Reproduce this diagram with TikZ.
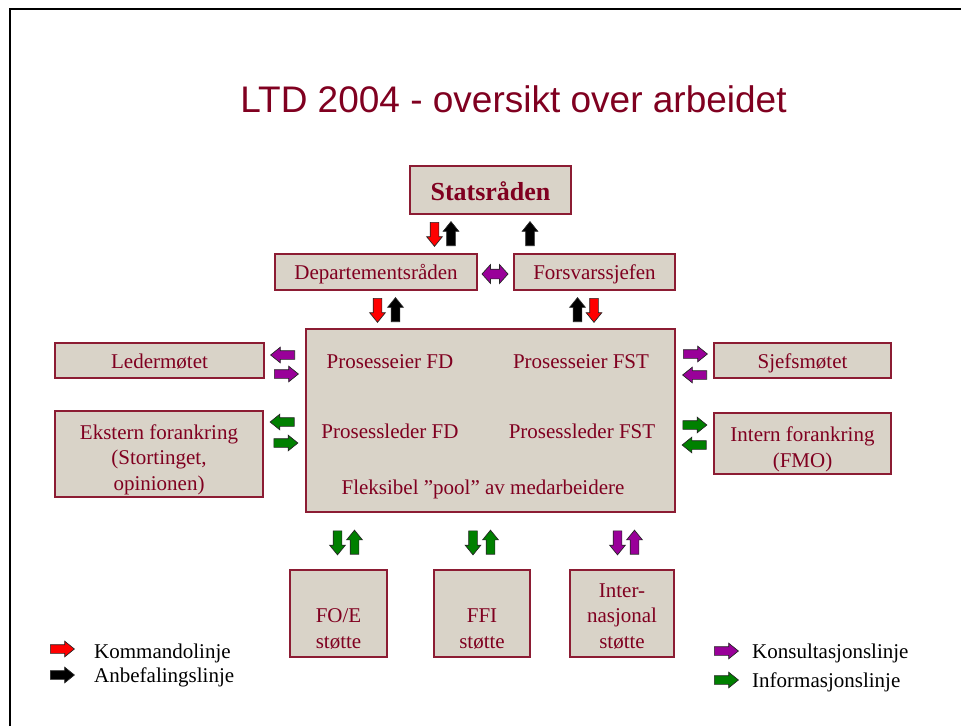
\documentclass[tikz,border=0pt]{standalone}
\usepackage{fontspec}
\setmainfont{Liberation Serif}
\newfontfamily\titlefont{Liberation Sans}
\usetikzlibrary{shapes.arrows}
\definecolor{boxfill}{HTML}{D9D3C8}
\definecolor{boxline}{HTML}{8C1C33}
\definecolor{wine}{HTML}{800020}
\definecolor{cmdred}{HTML}{FF0000}
\definecolor{konsult}{HTML}{990099}
\definecolor{info}{HTML}{008000}

\begin{document}
\begin{tikzpicture}[x=1pt,y=-1pt,
  box/.style={draw=boxline, fill=boxfill, line width=1.2pt, inner sep=0pt,
    align=center, text=wine, font=\fontsize{21}{25.5}\selectfont, text depth=0pt},
  boxtext/.style={anchor=base, text=wine, font=\fontsize{21}{25}\selectfont, inner sep=0pt},
  legtext/.style={anchor=base west, text=black, font=\fontsize{21}{25}\selectfont, inner sep=0pt},
  % block arrows, placed by the middle of their length
  blk/.style={single arrow, draw=black!85, line width=0.7pt, inner xsep=0pt, inner ysep=4pt,
    minimum height=24pt, minimum width=15pt, single arrow head extend=3.5pt,
    single arrow tip angle=78, anchor=tail},
  up/.style={blk, yshift=-12pt, rotate=90},
  down/.style={blk, yshift=12pt, rotate=-90},
  left/.style={blk, xshift=12pt, rotate=180},
  right/.style={blk, xshift=-12pt},
]
% page frame
\useasboundingbox (0,0) rectangle (961,726);
\fill[white] (0,0) rectangle (961,726);
\draw[line width=2pt] (10,726) -- (10,9) -- (961,9);

% title
\node[anchor=base, text=wine, inner sep=0pt, font=\titlefont\fontsize{37}{40}\selectfont]
  (title) at (513.5,112) {LTD 2004 - oversikt over arbeidet};

% boxes
\node[box, minimum width=161pt, minimum height=48pt, text height=20pt,
  font=\bfseries\fontsize{26}{30}\selectfont] (stat) at (490.5,190) {Statsråden};
\node[box, minimum width=202pt, minimum height=36pt, text height=14pt] (dep) at (376,272) {Departementsråden};
\node[box, minimum width=161pt, minimum height=36pt, text height=14pt] (fsj) at (594.5,272) {Forsvarssjefen};
\node[box, minimum width=369pt, minimum height=183pt] (main) at (490.5,420.5) {};
\node[box, minimum width=209pt, minimum height=35pt, text height=15pt] (leder) at (159.5,360.5) {Ledermøtet};
\node[box, minimum width=208pt, minimum height=86pt, text height=72pt] (ekst) at (159,454)
  {Ekstern forankring\\(Stortinget,\\opinionen)};
\node[box, minimum width=177pt, minimum height=35pt, text height=15pt] (sjef) at (802.5,360.5) {Sjefsmøtet};
\node[box, minimum width=177pt, minimum height=61pt, text height=47pt] (intern) at (802.5,443.5)
  {Intern forankring\\(FMO)};
\node[box, minimum width=97pt, minimum height=87pt, text height=69pt] (foe) at (338.5,613.5) {\strut\\FO/E\\støtte};
\node[box, minimum width=96pt, minimum height=87pt, text height=69pt] (ffi) at (482,613.5) {\strut\\FFI\\støtte};
\node[box, minimum width=104pt, minimum height=87pt, text height=69pt] (intl) at (622,613.5) {Inter-\\nasjonal\\støtte};

% texts inside the process box
\node[boxtext] (peFD) at (390,368) {Prosesseier FD};
\node[boxtext] (peFST) at (581,368) {Prosesseier FST};
\node[boxtext] (plFD) at (390,438) {Prosessleder FD};
\node[boxtext] (plFST) at (582,438) {Prosessleder FST};
\node[boxtext] (pool) at (483,494) {Fleksibel ”pool” av medarbeidere};

% lines between Statsråden and the level below
\node[down, fill=cmdred] (s1) at (434.5,234) {};
\node[up, fill=black] (s2) at (451,234) {};
\node[up, fill=black] (s3) at (530,234) {};
\node[double arrow, draw=black!85, line width=0.7pt, fill=konsult, inner xsep=0pt, inner ysep=4.5pt,
  minimum height=26pt, minimum width=18pt, double arrow head extend=4.5pt,
  double arrow tip angle=96] (dd) at (495,274) {};

% lines between the upper level and the process box
\node[down, fill=cmdred] (d1) at (377.5,310) {};
\node[up, fill=black] (d2) at (395.5,310) {};
\node[up, fill=black] (f1) at (577.5,310) {};
\node[down, fill=cmdred] (f2) at (594,310) {};

% side lines
\node[left, fill=konsult] (l1) at (283,355) {};
\node[right, fill=konsult] (l2) at (286,374) {};
\node[right, fill=konsult] (r1) at (695,354) {};
\node[left, fill=konsult] (r2) at (695,375) {};
\node[left, fill=info] (l3) at (282.5,422) {};
\node[right, fill=info] (l4) at (285.5,443) {};
\node[right, fill=info] (r3) at (694.5,425) {};
\node[left, fill=info] (r4) at (694.5,445) {};

% lines to the support units
\node[down, fill=info] (b1) at (337.5,542.5) {};
\node[up, fill=info] (b2) at (354.5,542.5) {};
\node[down, fill=info] (b3) at (473,542.5) {};
\node[up, fill=info] (b4) at (490.5,542.5) {};
\node[down, fill=konsult] (b5) at (617.5,542.5) {};
\node[up, fill=konsult] (b6) at (634.5,542.5) {};

% legend
\node[right, fill=cmdred, minimum width=14pt] (k1) at (62,649) {};
\node[legtext] (k1t) at (94,658) {Kommandolinje};
\node[right, fill=black, minimum width=14pt] (k2) at (62,675) {};
\node[legtext] (k2t) at (94,682) {Anbefalingslinje};
\node[right, fill=konsult, minimum width=14pt] (k3) at (726,651) {};
\node[legtext] (k3t) at (752,658) {Konsultasjonslinje};
\node[right, fill=info, minimum width=14pt] (k4) at (726,680) {};
\node[legtext] (k4t) at (752,687) {Informasjonslinje};
\end{tikzpicture}
\end{document}
